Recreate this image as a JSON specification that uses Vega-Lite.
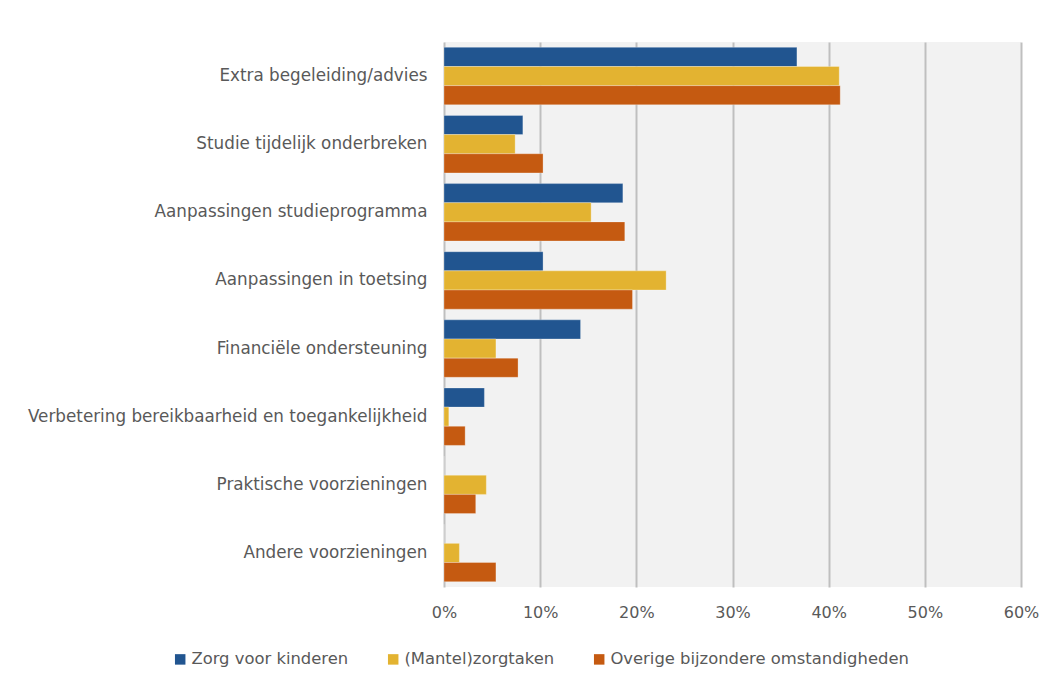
{
  "$schema": "https://vega.github.io/schema/vega-lite/v6.json",
  "width": 577,
  "height": 545,
  "autosize": {"type": "none"},
  "padding": {"left": 444, "top": 42, "right": 32, "bottom": 98},
  "background": "#ffffff",
  "data": {
    "values": [
      {"cat": "Extra begeleiding/advies", "series": "Zorg voor kinderen", "v": 0.367},
      {"cat": "Extra begeleiding/advies", "series": "(Mantel)zorgtaken", "v": 0.411},
      {"cat": "Extra begeleiding/advies", "series": "Overige bijzondere omstandigheden", "v": 0.412},
      {"cat": "Studie tijdelijk onderbreken", "series": "Zorg voor kinderen", "v": 0.082},
      {"cat": "Studie tijdelijk onderbreken", "series": "(Mantel)zorgtaken", "v": 0.074},
      {"cat": "Studie tijdelijk onderbreken", "series": "Overige bijzondere omstandigheden", "v": 0.103},
      {"cat": "Aanpassingen studieprogramma", "series": "Zorg voor kinderen", "v": 0.186},
      {"cat": "Aanpassingen studieprogramma", "series": "(Mantel)zorgtaken", "v": 0.153},
      {"cat": "Aanpassingen studieprogramma", "series": "Overige bijzondere omstandigheden", "v": 0.188},
      {"cat": "Aanpassingen in toetsing", "series": "Zorg voor kinderen", "v": 0.103},
      {"cat": "Aanpassingen in toetsing", "series": "(Mantel)zorgtaken", "v": 0.231},
      {"cat": "Aanpassingen in toetsing", "series": "Overige bijzondere omstandigheden", "v": 0.196},
      {"cat": "Financiële ondersteuning", "series": "Zorg voor kinderen", "v": 0.142},
      {"cat": "Financiële ondersteuning", "series": "(Mantel)zorgtaken", "v": 0.054},
      {"cat": "Financiële ondersteuning", "series": "Overige bijzondere omstandigheden", "v": 0.077},
      {"cat": "Verbetering bereikbaarheid en toegankelijkheid", "series": "Zorg voor kinderen", "v": 0.042},
      {"cat": "Verbetering bereikbaarheid en toegankelijkheid", "series": "(Mantel)zorgtaken", "v": 0.005},
      {"cat": "Verbetering bereikbaarheid en toegankelijkheid", "series": "Overige bijzondere omstandigheden", "v": 0.022},
      {"cat": "Praktische voorzieningen", "series": "Zorg voor kinderen", "v": 0},
      {"cat": "Praktische voorzieningen", "series": "(Mantel)zorgtaken", "v": 0.044},
      {"cat": "Praktische voorzieningen", "series": "Overige bijzondere omstandigheden", "v": 0.033},
      {"cat": "Andere voorzieningen", "series": "Zorg voor kinderen", "v": 0},
      {"cat": "Andere voorzieningen", "series": "(Mantel)zorgtaken", "v": 0.016},
      {"cat": "Andere voorzieningen", "series": "Overige bijzondere omstandigheden", "v": 0.054}
    ]
  },
  "mark": {"type": "bar", "stroke": "#ffffff", "strokeWidth": 0.8, "strokeOpacity": 0.35},
  "encoding": {
    "y": {
      "field": "cat",
      "type": "nominal",
      "sort": null,
      "title": null,
      "scale": {"paddingInner": 0.157, "paddingOuter": 0.0785},
      "axis": {
        "domain": false,
        "ticks": false,
        "labelPadding": 17,
        "labelFontSize": 16.8,
        "labelColor": "#595959",
        "labelLimit": 500
      }
    },
    "yOffset": {
      "field": "series",
      "type": "nominal",
      "sort": ["Zorg voor kinderen", "(Mantel)zorgtaken", "Overige bijzondere omstandigheden"],
      "scale": {"paddingInner": 0, "paddingOuter": 0}
    },
    "x": {
      "field": "v",
      "type": "quantitative",
      "title": null,
      "scale": {"domain": [0, 0.6], "nice": false},
      "axis": {
        "format": ".0%",
        "values": [0, 0.1, 0.2, 0.3, 0.4, 0.5, 0.6],
        "domain": false,
        "ticks": false,
        "grid": true,
        "gridColor": "#bfbfbf",
        "gridWidth": 2,
        "labelPadding": 17,
        "labelFontSize": 16,
        "labelColor": "#595959",
        "labelFlush": false
      }
    },
    "color": {
      "field": "series",
      "type": "nominal",
      "sort": ["Zorg voor kinderen", "(Mantel)zorgtaken", "Overige bijzondere omstandigheden"],
      "scale": {
        "domain": ["Zorg voor kinderen", "(Mantel)zorgtaken", "Overige bijzondere omstandigheden"],
        "range": ["#215590", "#e3b331", "#c55a11"]
      },
      "legend": {
        "title": null,
        "orient": "none",
        "direction": "horizontal",
        "legendX": -272,
        "legendY": 609,
        "symbolType": "square",
        "symbolSize": 110,
        "symbolStrokeWidth": 0,
        "labelFontSize": 16.4,
        "labelColor": "#595959",
        "labelOffset": 3,
        "columnPadding": 36,
        "labelLimit": 400
      }
    }
  },
  "config": {
    "font": "DejaVu Sans",
    "view": {"fill": "#f2f2f2", "stroke": null}
  }
}
